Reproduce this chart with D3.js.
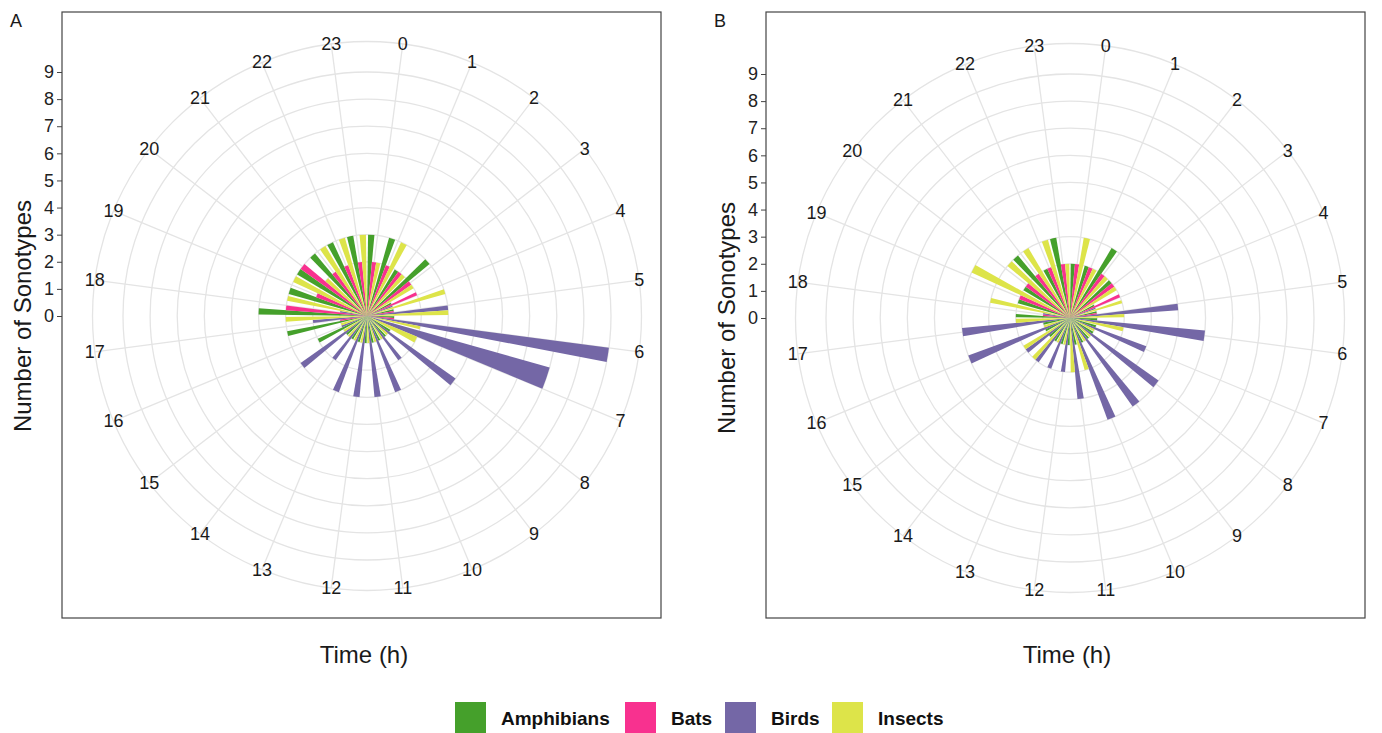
<!DOCTYPE html>
<html>
<head>
<meta charset="utf-8">
<script src="https://cdn.jsdelivr.net/npm/d3@7"></script>
<style>
  body { margin: 0; background: #fff; }
  svg { display: block; font-family: Arial, "Liberation Sans", sans-serif; }
</style>
</head>
<body>
<svg id="chart" width="1382" height="733"></svg>
<script>
const hourLabels = ["0", "1", "2", "3", "4", "5", "6", "7", "8", "9", "10", "11",
  "12", "13", "14", "15", "16", "17", "18", "19", "20", "21", "22", "23"];
const taxa = ["Amphibians", "Bats", "Birds", "Insects"];
const taxaColors = ["#45a02b", "#f8318f", "#7467a6", "#dde449"];
const rTicks = [0, 1, 2, 3, 4, 5, 6, 7, 8, 9];

// panel A, one value per hour (0..23); 0 = taxon not recorded that hour
const amphibiansA = [3, 3, 2, 3, 1, 1, 1, 0, 1, 1, 1, 1, 1, 1, 1, 1, 2, 3, 4, 3, 3, 3, 3, 3];
const batsA       = [2, 2, 2, 2, 2, 1, 1, 0, 0, 0, 0, 0, 0, 0, 0, 0, 0, 1, 3, 2, 3, 2, 2, 2];
const birdsA      = [0, 0, 0, 0, 1, 3, 9, 7, 4, 2, 3, 3, 3, 3, 2, 3, 1, 2, 1, 0, 0, 0, 0, 0];
const insectsA    = [2, 3, 2, 2, 3, 3, 2, 2, 1, 1, 1, 1, 1, 1, 1, 1, 1, 3, 3, 3, 2, 3, 3, 3];

// panel B
const amphibiansB = [2, 2, 3, 2, 1, 1, 1, 1, 1, 1, 1, 1, 1, 1, 1, 1, 1, 1, 2, 2, 2, 3, 2, 3];
const batsB       = [2, 2, 2, 2, 2, 1, 0, 0, 0, 0, 0, 0, 0, 0, 0, 0, 0, 0, 1, 2, 2, 2, 2, 2];
const birdsB      = [0, 0, 0, 0, 1, 4, 5, 3, 4, 4, 4, 3, 2, 2, 2, 2, 4, 4, 1, 0, 0, 0, 0, 0];
const insectsB    = [3, 2, 2, 2, 2, 2, 2, 1, 1, 1, 2, 2, 1, 1, 2, 2, 1, 2, 3, 4, 3, 3, 3, 2];

const panels = [
  { letter: "A", values: [amphibiansA, batsA, birdsA, insectsA], left: 62, cx: 367, cy: 316 },
  { letter: "B", values: [amphibiansB, batsB, birdsB, insectsB], left: 766, cx: 1070, cy: 318 },
];

const svg = d3.select("#chart");
const frameTop = 12, frameW = 599, frameH = 606;

const theta = d3.scaleLinear().domain([0, 24]).range([0, 2 * Math.PI]);
const r = d3.scaleLinear().domain([0, 9]).range([0, 244]);
const rOuter = r(9) * 1.125;
const arc = d3.arc().innerRadius(0);
const gridColor = "#e4e4e4";

function drawPanel(p) {
  const g = svg.append("g");

  const c = g.append("g").attr("transform", `translate(${p.cx},${p.cy})`);

  // radial grid
  c.selectAll("circle.grid")
    .data(rTicks.slice(1).map((d) => r(d)).concat([rOuter]))
    .join("circle")
    .attr("r", (d) => d)
    .attr("fill", "none")
    .attr("stroke", gridColor)
    .attr("stroke-width", 1.3);

  c.selectAll("line.spoke")
    .data(hourLabels)
    .join("line")
    .attr("x1", 0)
    .attr("y1", 0)
    .attr("x2", (d, i) => rOuter * Math.sin(theta(i + 0.5)))
    .attr("y2", (d, i) => -rOuter * Math.cos(theta(i + 0.5)))
    .attr("stroke", gridColor)
    .attr("stroke-width", 1.3);

  // dodged bars: each hour splits its width among the taxa present that hour
  const rows = hourLabels.flatMap((h, i) => {
    const present = taxa.filter((t, k) => p.values[k][i] > 0);
    const dodge = d3.scaleBand().domain(present).range([-0.45, 0.45]);
    return present.map((t) => {
      const k = taxa.indexOf(t);
      return { hour: i, value: p.values[k][i], color: taxaColors[k],
        a0: i + 0.5 + dodge(t), a1: i + 0.5 + dodge(t) + dodge.bandwidth() };
    });
  });

  c.selectAll("path.bar")
    .data(rows)
    .join("path")
    .attr("d", (d) => arc({
      outerRadius: r(d.value),
      startAngle: theta(d.a0),
      endAngle: theta(d.a1),
    }))
    .attr("fill", (d) => d.color);

  // hour labels on the outer ring
  c.selectAll("text.hour")
    .data(hourLabels)
    .join("text")
    .attr("x", (d, i) => rOuter * Math.sin(theta(i + 0.5)))
    .attr("y", (d, i) => -rOuter * Math.cos(theta(i + 0.5)))
    .attr("text-anchor", "middle")
    .attr("dominant-baseline", "central")
    .attr("font-size", 18)
    .attr("fill", "#1a1a1a")
    .text((d) => d);

  // frame
  g.append("rect")
    .attr("x", p.left)
    .attr("y", frameTop)
    .attr("width", frameW)
    .attr("height", frameH)
    .attr("fill", "none")
    .attr("stroke", "#444")
    .attr("stroke-width", 1.2);

  // radius axis at the left
  const y = d3.scaleLinear().domain([0, 9]).range([p.cy, p.cy - r(9)]);
  const ax = g.append("g")
    .attr("transform", `translate(${p.left},0)`)
    .call(d3.axisLeft(y).tickValues(rTicks).tickSize(5).tickSizeOuter(0).tickPadding(3));
  ax.select(".domain").remove();
  ax.selectAll("line").attr("stroke", "#444");
  ax.selectAll("text").attr("font-size", 18).attr("fill", "#222").attr("font-family", "Arial, 'Liberation Sans', sans-serif");

  g.append("text")
    .attr("transform", `translate(${p.left - 40},${p.cy}) rotate(-90)`)
    .attr("text-anchor", "middle")
    .attr("dominant-baseline", "central")
    .attr("font-size", 24)
    .attr("fill", "#1a1a1a")
    .text("Number of Sonotypes");

  g.append("text")
    .attr("x", p.cx - 3)
    .attr("y", 663)
    .attr("text-anchor", "middle")
    .attr("font-size", 24)
    .attr("fill", "#1a1a1a")
    .text("Time (h)");

  g.append("text")
    .attr("x", p.left - 52)
    .attr("y", 27)
    .attr("font-size", 18)
    .attr("fill", "#1a1a1a")
    .text(p.letter);
}

panels.forEach(drawPanel);

// legend
const legendX = [455, 625, 725, 832];
const legend = svg.append("g");
const items = legend.selectAll("g")
  .data(taxa)
  .join("g")
  .attr("transform", (d, i) => `translate(${legendX[i]},702)`);
items.append("rect")
  .attr("width", 31)
  .attr("height", 31)
  .attr("fill", (d, i) => taxaColors[i]);
items.append("text")
  .attr("x", 46)
  .attr("y", 23)
  .attr("font-size", 19)
  .attr("font-weight", "bold")
  .attr("fill", "#111")
  .text((d) => d);
</script>
</body>
</html>
